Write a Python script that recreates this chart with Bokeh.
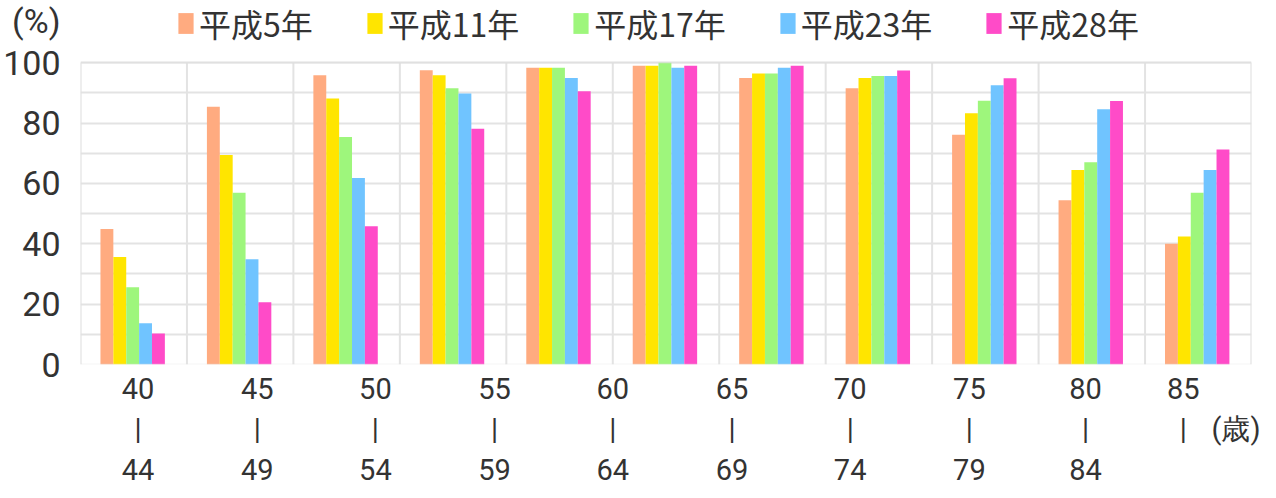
from bokeh.plotting import figure
from bokeh.models import ColumnDataSource, FixedTicker, Legend, LegendItem, BoxAnnotation
from bokeh.transform import dodge
from bokeh.embed import file_html
from bokeh.resources import INLINE

# ---- data ----
series_names = ["平成5年", "平成11年", "平成17年", "平成23年", "平成28年"]
group_index = [0, 1, 2, 3, 4, 5, 6, 7, 8, 9, 10]
h05 = [44.9, 85.4, 95.8, 97.5, 98.3, 99.0, 94.9, 91.5, 76.1, 54.4, 40.0]
h11 = [35.6, 69.4, 88.1, 95.8, 98.3, 99.0, 96.4, 94.9, 83.2, 64.4, 42.4]
h17 = [25.6, 56.9, 75.4, 91.5, 98.3, 100.0, 96.4, 95.6, 87.4, 67.0, 56.9]
h23 = [13.7, 34.9, 61.8, 89.8, 94.9, 98.3, 98.3, 95.6, 92.5, 84.6, 64.4]
h28 = [10.3, 20.6, 45.8, 78.1, 90.5, 99.0, 99.0, 97.4, 94.8, 87.3, 71.2]
age_labels = ["40\n|\n44", "45\n|\n49", "50\n|\n54", "55\n|\n59", "60\n|\n64",
              "65\n|\n69", "70\n|\n74", "75\n|\n79", "80\n|\n84", "85\n|"]
y_tick_values = [0, 20, 40, 60, 80, 100]
y_minor_values = [10, 30, 50, 70, 90]
unit_y = "(%)"
unit_x = "(歳)"

colors = ["#ffab80", "#ffe500", "#9ef67c", "#70c4ff", "#ff4bc8"]
value_cols = ["h05", "h11", "h17", "h23", "h28"]

# ---- layout ----
W, H = 1260, 490
BL, BR, BB = 73, 9, 121
FRAME_H = H - BB                 # frame spans the full height above the x labels
PX_PER_UNIT = 3.06               # 0..100 occupies 306 px
y_top = FRAME_H / PX_PER_UNIT    # extra room above 100 holds legend row
unit_y_pos = (FRAME_H - 21) / PX_PER_UNIT
label_positions = [0.04, 1.16, 2.27, 3.39, 4.50, 5.62, 6.73, 7.85, 8.94, 9.86]
unit_x_position = 10.39
bw = 0.121
grid_col = "#e3e3e3"

p = figure(width=W, height=H, x_range=(-0.5, 10.5), y_range=(0, y_top),
           output_backend="svg", toolbar_location=None,
           min_border_left=BL, min_border_right=BR, min_border_top=0,
           min_border_bottom=BB)
p.outline_line_color = None

src = ColumnDataSource(dict(g=group_index, h05=h05, h11=h11, h17=h17, h23=h23, h28=h28))

# vertical separators between age groups (only across the 0..100 band)
bounds = [g - 0.5 for g in group_index] + [group_index[-1] + 0.5]
sep = ColumnDataSource(dict(x=bounds, y0=[y_tick_values[0]] * len(bounds),
                            y1=[y_tick_values[-1]] * len(bounds)))
p.segment(x0="x", y0="y0", x1="x", y1="y1", source=sep, line_color=grid_col, line_width=2)

# horizontal grid
p.xgrid.visible = False
p.ygrid.ticker = FixedTicker(ticks=y_tick_values, minor_ticks=y_minor_values)
p.ygrid.grid_line_color = grid_col
p.ygrid.grid_line_width = 2
p.ygrid.minor_grid_line_color = grid_col
p.ygrid.minor_grid_line_width = 2

# plot border around the 0..100 band
p.add_layout(BoxAnnotation(left=bounds[0], right=bounds[-1], bottom=y_tick_values[0],
                           top=y_tick_values[-1], fill_alpha=0, line_color="#dcdcdc",
                           line_width=2))

renderers = []
for i, (col, c) in enumerate(zip(value_cols, colors)):
    r = p.vbar(x=dodge("g", (i - 2) * bw - 0.01), top=col, width=bw, source=src,
               fill_color=c, line_color=None)
    renderers.append(r)

# axes
p.yaxis.ticker = FixedTicker(ticks=y_tick_values + [unit_y_pos])
p.yaxis.major_label_overrides = {unit_y_pos: unit_y}
x_ticks = label_positions + [unit_x_position]
p.xaxis.ticker = FixedTicker(ticks=x_ticks)
overrides = {pos: lab for pos, lab in zip(label_positions, age_labels)}
overrides[unit_x_position] = "\n" + unit_x
p.xaxis.major_label_overrides = overrides
for ax in (p.xaxis, p.yaxis):
    ax.axis_line_color = None
    ax.major_tick_line_color = None
    ax.minor_tick_line_color = None
    ax.major_label_text_color = "#333333"
    ax.major_label_text_font = "Roboto"
p.yaxis.major_label_text_font_size = "34px"
p.yaxis.major_label_standoff = 14
p.xaxis.major_label_text_font_size = "29px"
p.xaxis.major_label_standoff = 1

legend = Legend(items=[LegendItem(label=n, renderers=[r]) for n, r in zip(series_names, renderers)],
                orientation="horizontal", location=(96, 318),
                glyph_width=19, glyph_height=26, label_standoff=4, spacing=52,
                padding=0, margin=0, border_line_color=None, background_fill_alpha=0,
                label_text_font="Noto Sans CJK JP", label_text_font_size="32px",
                label_text_color="#333333")
p.add_layout(legend)

open("out.html", "w").write(file_html(p, INLINE))
